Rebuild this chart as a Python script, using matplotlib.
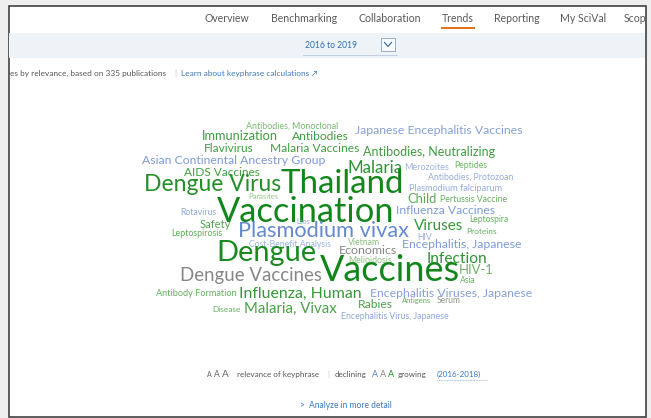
import matplotlib
matplotlib.use("Agg")
import matplotlib.pyplot as plt
from matplotlib.patches import Rectangle
from matplotlib.colors import LinearSegmentedColormap, Normalize

# ---------------- data ----------------
words = [
    "Antibodies, Monoclonal", "Japanese Encephalitis Vaccines", "Immunization", "Antibodies",
    "Flavivirus", "Malaria Vaccines", "Antibodies, Neutralizing", "Asian Continental Ancestry Group",
    "AIDS Vaccines", "Malaria", "Merozoites", "Peptides", "Dengue Virus", "Thailand",
    "Antibodies, Protozoan", "Plasmodium falciparum", "Parasites", "Child", "Pertussis Vaccine",
    "Vaccination", "Rotavirus", "Influenza Vaccines", "Leptospira", "Safety", "Laos",
    "Plasmodium vivax", "Viruses", "Proteins", "Leptospirosis", "HIV", "Cost-Benefit Analysis",
    "Vietnam", "Encephalitis, Japanese", "Dengue", "Economics", "Melioidosis", "Infection",
    "Dengue Vaccines", "Vaccines", "HIV-1", "Asia", "Antibody Formation", "Influenza, Human",
    "Encephalitis Viruses, Japanese", "Rabies", "Antigens", "Serum", "Disease", "Malaria, Vivax",
    "Encephalitis Virus, Japanese",
]
# relevance of keyphrase (drawn as font size)
relevance = [
    8.9, 12.2, 12.7, 12.0, 11.9, 12.0, 12.5, 12.2,
    11.9, 17.0, 9.0, 8.6, 22.9, 33.0,
    8.8, 9.1, 7.6, 13.0, 8.7,
    34.4, 8.6, 12.1, 8.5, 11.3, 6.8,
    21.8, 15.3, 8.4, 8.9, 8.6, 8.6,
    8.7, 12.2, 29.0, 12.4, 8.8, 15.5,
    18.6, 36.0, 13.0, 8.5, 9.1, 15.9,
    12.3, 12.1, 7.5, 8.5, 8.2, 15.0,
    8.8,
]
# growth 2016-2018: -1 declining ... 0 stable ... +1 growing
growth = [
    0.45, -0.55, 0.75, 0.75, 0.75, 0.75, 0.75, -0.6,
    0.75, 0.85, -0.4, 0.5, 0.9, 1.0,
    -0.45, -0.45, 0.3, 0.6, 0.55,
    1.0, -0.5, -0.6, 0.55, 0.65, -0.3,
    -0.75, 0.8, 0.55, 0.6, -0.35, -0.4,
    0.35, -0.6, 0.95, 0.0, 0.35, 0.85,
    0.0, 1.0, 0.5, 0.5, 0.55, 0.8,
    -0.55, 0.7, 0.55, 0.05, 0.55, 0.7,
    -0.5,
]

nav_items = ["Overview", "Benchmarking", "Collaboration", "Trends", "Reporting", "My SciVal", "Scop"]
period_label = "2016 to 2019"
subtitle = "es by relevance, based on 335 publications"
learn_link = "Learn about keyphrase calculations \u2197"
trend_period = "(2016-2018)"

# ---------------- layout (pixels) ----------------
word_x = [
    292, 439, 240, 320, 229, 315, 429, 234,
    222, 375, 427, 471, 213, 342,
    471, 456, 263, 422, 474,
    306, 198, 445, 489, 215, 303,
    324, 439, 482, 197, 425, 290,
    364, 462, 266, 368, 370, 457,
    251, 390, 476, 468, 196, 300,
    451, 375, 417, 449, 226, 290,
    395,
]
word_y = [
    129, 134, 140, 140, 152, 152, 156, 164,
    176, 173, 170, 168, 191, 193,
    180, 191, 199, 203, 202,
    222, 215, 214, 222, 228, 224,
    237, 230, 234, 236, 240, 247,
    245, 248, 261, 254, 263, 263,
    281, 281, 274, 283, 296, 298,
    297, 308, 303, 303, 312, 313,
    319,
]
nav_x = [227, 304, 390, 458, 517, 583, 624]

W, H = 651, 418
FONT = ["Lato", "DejaVu Sans"]
plt.rcParams["font.family"] = FONT

fig = plt.figure(figsize=(W / 72, H / 72), dpi=72, facecolor="#efefef")
ax = fig.add_axes([0, 0, 1, 1])
ax.set_xlim(0, W)
ax.set_ylim(H, 0)
ax.axis("off")

# page frame
ax.add_patch(Rectangle((8.5, 5.5), 637.5, 411, facecolor="white", edgecolor="#3a3a3a", lw=1.6, zorder=0))

# nav bar
for x, t in zip(nav_x, nav_items):
    ax.text(x, 22, t, ha="center" if t != "Scop" else "left", va="baseline", fontsize=10.5,
            color="#5a5a5a", clip_on=True)
ax.plot([441, 475], [28, 28], color="#e8731f", lw=2, solid_capstyle="butt")

# period band
ax.add_patch(Rectangle((9.3, 33), 636, 25, facecolor="#eef3f8", edgecolor="none", zorder=0.5))
ax.text(331, 48, period_label, ha="center", va="baseline", fontsize=8.5, color="#2f6fae")
ax.add_patch(Rectangle((381, 38), 14, 13, facecolor="#f7fafd", edgecolor="#8fa9c4", lw=0.9))
ax.plot([384.5, 388, 391.5], [42.5, 46.5, 42.5], color="#3d6e9e", lw=1.2)
ax.plot([303, 397], [55, 55], color="#b9c9d9", lw=0.8)

# subtitle line
ax.text(9.5, 76, subtitle, ha="left", va="baseline", fontsize=8.3, color="#555555")
ax.text(174, 76, "|", ha="left", va="baseline", fontsize=8.3, color="#c0c0c0")
ax.text(181, 76, learn_link, ha="left", va="baseline", fontsize=8.3, color="#3b7bbf")

# word cloud
cmap = LinearSegmentedColormap.from_list(
    "trend",
    [(0.0, "#3d6cc2"), (0.3, "#9db3e0"), (0.5, "#858585"), (0.62, "#9fcb8f"), (1.0, "#13861b")],
)
norm = Normalize(-1, 1)
for w, r, g, x, y in zip(words, relevance, growth, word_x, word_y):
    ax.text(x, y, w, ha="center", va="baseline", fontsize=r, color=cmap(norm(g)))

# legend line
ax.text(207, 377, "A", ha="left", va="baseline", fontsize=7, color="#666666")
ax.text(214, 377, "A", ha="left", va="baseline", fontsize=8.5, color="#666666")
ax.text(222, 377, "A", ha="left", va="baseline", fontsize=10, color="#666666")
ax.text(237, 377, "relevance of keyphrase", ha="left", va="baseline", fontsize=8, color="#555555")
ax.text(327, 377, "|", ha="left", va="baseline", fontsize=8, color="#c0c0c0")
ax.text(335, 377, "declining", ha="left", va="baseline", fontsize=8, color="#555555")
ax.text(372, 377, "A", ha="left", va="baseline", fontsize=9, color=cmap(norm(-0.8)))
ax.text(380, 377, "A", ha="left", va="baseline", fontsize=9, color=cmap(norm(0.0)))
ax.text(388, 377, "A", ha="left", va="baseline", fontsize=9, color=cmap(norm(0.9)))
ax.text(398, 377, "growing", ha="left", va="baseline", fontsize=8, color="#555555")
ax.text(437, 377, trend_period, ha="left", va="baseline", fontsize=8, color="#3b7bbf")
ax.plot([437, 487], [380, 380], color="#7fa6d3", lw=0.8, ls=(0, (1, 1)))

# analyze link
ax.text(299, 408, ">", ha="left", va="baseline", fontsize=8.5, color="#3b7bbf")
ax.text(309, 408, "Analyze in more detail", ha="left", va="baseline", fontsize=8.5, color="#3b7bbf")

fig.savefig("out.png", dpi=72, facecolor=fig.get_facecolor())
